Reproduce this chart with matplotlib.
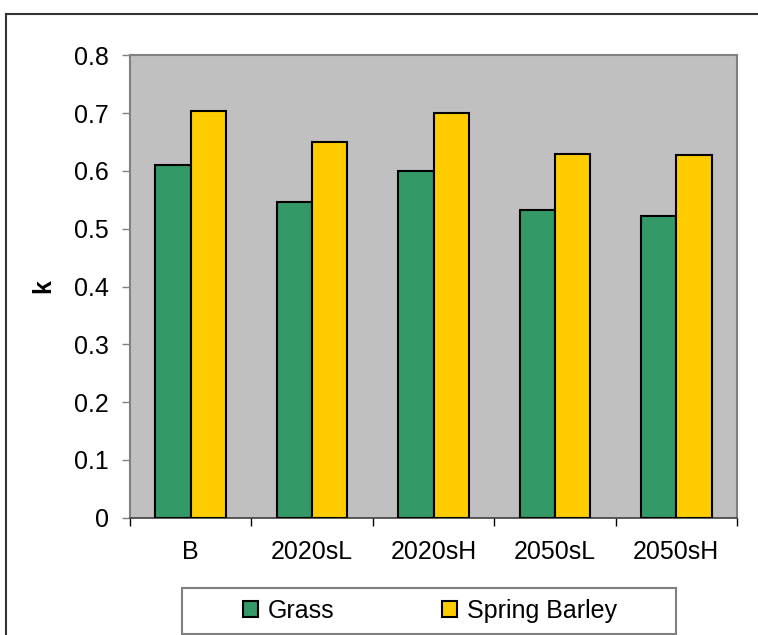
import matplotlib
matplotlib.use("Agg")
import matplotlib.pyplot as plt
from matplotlib.patches import Rectangle
import numpy as np

plt.rcParams['font.family'] = ['Liberation Sans', 'DejaVu Sans']

categories = ["B", "2020sL", "2020sH", "2050sL", "2050sH"]
grass = [0.61, 0.547, 0.60, 0.532, 0.522]
spring_barley = [0.703, 0.650, 0.700, 0.629, 0.627]
y_ticks = [0, 0.1, 0.2, 0.3, 0.4, 0.5, 0.6, 0.7, 0.8]
y_tick_labels = ["0", "0.1", "0.2", "0.3", "0.4", "0.5", "0.6", "0.7", "0.8"]

W, H = 758, 635
fig = plt.figure(figsize=(W / 100, H / 100), dpi=100)
ax = fig.add_axes([130 / W, 1 - 517.7 / H, (737 - 130) / W, (517.7 - 55.3) / H])

fs = 18
x = np.arange(len(categories))
bw = 0.29
ax.bar(x - bw / 2, grass, bw, color="#339966", edgecolor="black", linewidth=1.5,
       label="Grass", zorder=3)
ax.bar(x + bw / 2, spring_barley, bw, color="#FFCC00", edgecolor="black", linewidth=1.5,
       label="Spring Barley", zorder=3)

ax.set_facecolor("#C0C0C0")
ax.set_xlim(-0.5, len(categories) - 0.5)
ax.set_ylim(0, 0.8)
ax.set_yticks(y_ticks)
ax.set_yticklabels(y_tick_labels, fontsize=fs)
ax.set_xticks(x)
ax.set_xticklabels(categories, fontsize=fs)
ax.set_xticks(np.arange(-0.5, len(categories)), minor=True)
ax.tick_params(axis='x', which='major', length=0, pad=16)
ax.tick_params(axis='x', which='minor', length=6, width=1, color='black', direction='out')
ax.tick_params(axis='y', length=6, width=1, color='#808080', direction='out', pad=9)

for side in ['top', 'right', 'left']:
    ax.spines[side].set_color('#808080')
    ax.spines[side].set_linewidth(1.5)
ax.spines['bottom'].set_color('#404040')
ax.spines['bottom'].set_linewidth(1.2)

ax.set_ylabel("k", fontsize=fs, fontweight='bold', labelpad=14)

# outer chart border
fig.patches.append(Rectangle((6 / W, -0.2), 1.5, 1 - 14 / H + 0.2,
                             transform=fig.transFigure, fill=False,
                             edgecolor='#333333', linewidth=1.5))

# legend box
fig.patches.append(Rectangle((182 / W, 1 - 634 / H), (676 - 182) / W, (634 - 588) / H,
                             transform=fig.transFigure, fill=False,
                             edgecolor='#808080', linewidth=1.5))
handles, labels = ax.get_legend_handles_labels()
fig.legend(handles, labels, loc='center', bbox_to_anchor=(430 / W, 1 - 611 / H),
           ncol=2, frameon=False, fontsize=fs, handlelength=0.6, handleheight=0.6,
           handletextpad=0.4, columnspacing=4.3, borderaxespad=0)

fig.savefig("out.png", dpi=100)
